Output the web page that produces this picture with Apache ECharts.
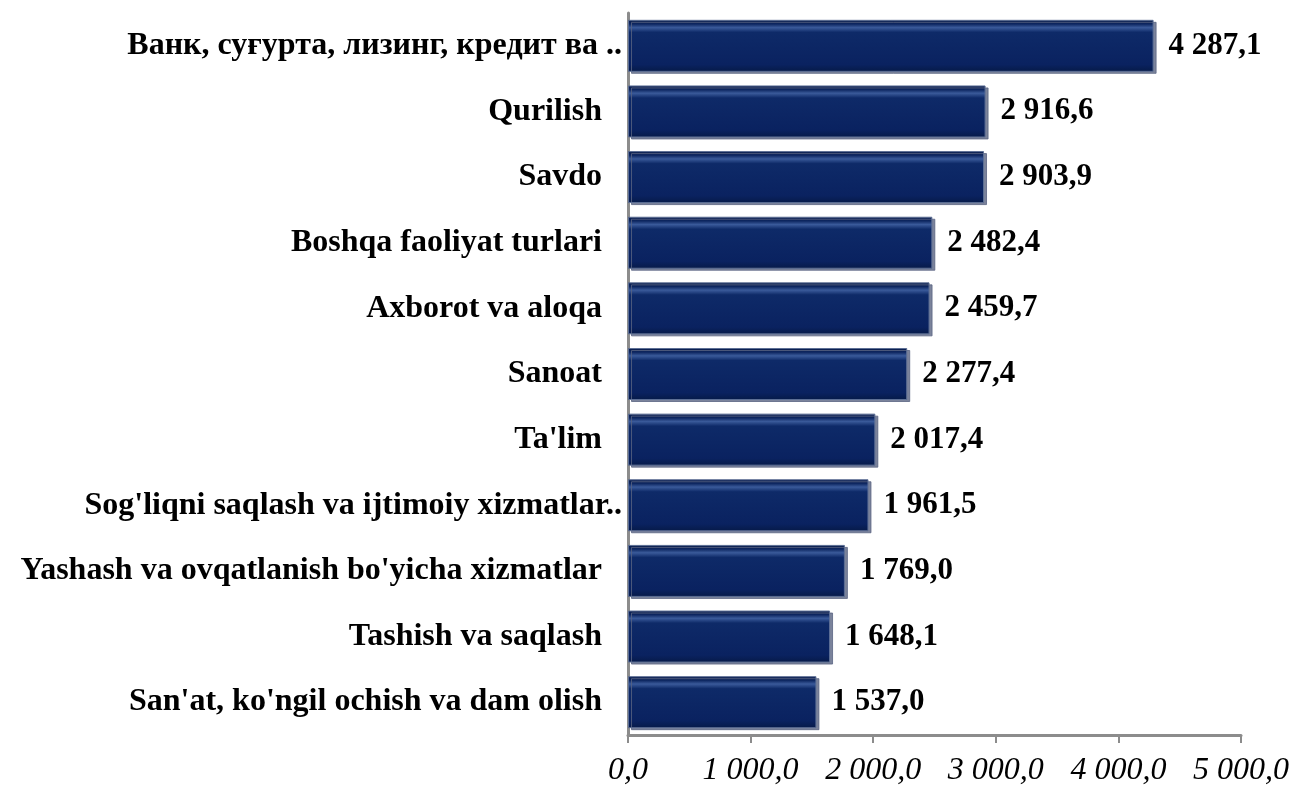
<!DOCTYPE html>
<html>
<head>
<meta charset="utf-8">
<script src="https://cdn.jsdelivr.net/npm/echarts@6/dist/echarts.min.js"></script>
<style>
  html, body { margin: 0; padding: 0; background: #fff; }
  #chart { width: 1299px; height: 787px; }
</style>
</head>
<body>
<div id="chart"></div>
<script>
// categories top to bottom
const categories = [
  'Ванк, суғурта, лизинг, кредит ва ..',
  'Qurilish',
  'Savdo',
  'Boshqa faoliyat turlari',
  'Axborot va aloqa',
  'Sanoat',
  "Ta'lim",
  "Sog'liqni saqlash va ijtimoiy xizmatlar..",
  "Yashash va ovqatlanish bo'yicha xizmatlar",
  'Tashish va saqlash',
  "San'at, ko'ngil ochish va dam olish"
]
const values = [4287.1, 2916.6, 2903.9, 2482.4, 2459.7, 2277.4, 2017.4, 1961.5, 1769.0, 1648.1, 1537.0]
const xTicks = [0, 1000, 2000, 3000, 4000, 5000]

const fmt = (v) => {
  const parts = v.toFixed(1).split('.')
  return parts[0].replace(/\B(?=(\d{3})+(?!\d))/g, ' ') + ',' + parts[1]
}

const serif = '"Liberation Serif", "DejaVu Serif", serif'
const chart = echarts.init(document.getElementById('chart'))

const option = {
  animation: false,
  grid: { left: 628, right: 58, top: 13, bottom: 52, containLabel: false },
  xAxis: {
    type: 'value',
    min: xTicks[0],
    max: xTicks[xTicks.length - 1],
    interval: 1000,
    splitLine: { show: false },
    axisLine: { show: true, lineStyle: { color: '#8c8c8c', width: 3 } },
    axisTick: { show: true, length: 8, lineStyle: { color: '#8c8c8c', width: 2 } },
    axisLabel: {
      margin: 20,
      fontFamily: serif,
      fontStyle: 'italic',
      fontSize: 32,
      color: '#000',
      formatter: (v) => fmt(v)
    }
  },
  yAxis: {
    type: 'category',
    inverse: true,
    data: categories,
    axisLine: { show: true, lineStyle: { color: '#8c8c8c', width: 3 } },
    axisTick: { show: false },
    axisLabel: {
      margin: 6,
      fontFamily: serif,
      fontWeight: 'bold',
      fontSize: 32,
      color: '#000',
      formatter: (v) => v.endsWith('..') ? '{t|' + v + '}' : '{n|' + v + '}',
      rich: {
        t: { fontFamily: serif, fontWeight: 'bold', fontSize: 32, color: '#000' },
        n: { fontFamily: serif, fontWeight: 'bold', fontSize: 32, color: '#000', padding: [0, 20, 0, 0] }
      }
    }
  },
  series: [
    {
      type: 'bar',
      data: values,
      barWidth: 52,
      itemStyle: {
        color: new echarts.graphic.LinearGradient(0, 0, 0, 1, [
          { offset: 0, color: '#0b1d4a' },
          { offset: 0.08, color: '#0d2660' },
          { offset: 0.15, color: '#3a5a9a' },
          { offset: 0.24, color: '#0e2a68' },
          { offset: 0.86, color: '#0a2260' },
          { offset: 1, color: '#061a48' }
        ]),
        borderColor: '#5d6f95',
        borderWidth: 1,
        shadowColor: 'rgba(90, 100, 130, 0.8)',
        shadowOffsetX: 3,
        shadowOffsetY: 2,
        shadowBlur: 0
      },
      label: {
        show: true,
        position: 'right',
        distance: 15,
        fontFamily: serif,
        fontWeight: 'bold',
        fontSize: 31,
        color: '#000',
        formatter: (p) => fmt(p.value)
      }
    }
  ]
}

chart.setOption(option)
</script>
</body>
</html>
